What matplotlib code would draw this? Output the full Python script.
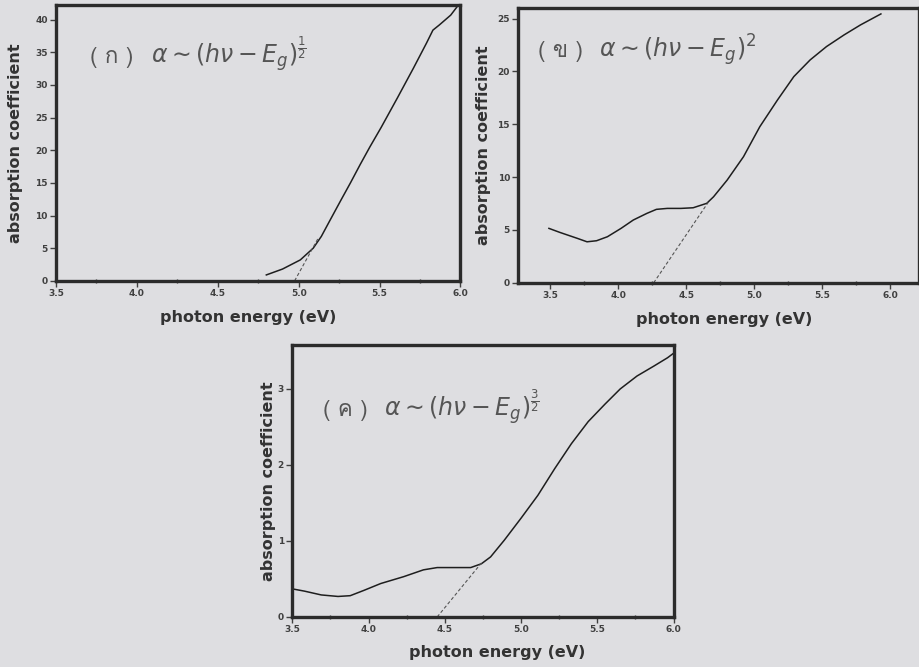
import matplotlib
matplotlib.use('Agg')
import matplotlib.pyplot as plt
from matplotlib import font_manager
from matplotlib.ft2font import FT2Font
from matplotlib.ticker import MultipleLocator, FormatStrFormatter

# ── data ────────────────────────────────────────────────
# (ก) alpha ~ (hv - Eg)^1/2
e1 = [4.80, 4.90, 5.01, 5.09, 5.14, 5.19, 5.26, 5.32, 5.38, 5.44, 5.51,
      5.61, 5.71, 5.79, 5.83, 5.87, 5.94, 5.98]
a1 = [0.9, 1.8, 3.2, 5.0, 6.8, 9.1, 12.3, 15.0, 17.8, 20.5, 23.5,
      28.0, 32.6, 36.4, 38.4, 39.2, 40.7, 42.0]
fit1_e = [4.975, 5.12]
fit1_a = [0.0, 6.5]

# (ข) alpha ~ (hv - Eg)^2
e2 = [3.49, 3.57, 3.70, 3.77, 3.84, 3.92, 4.02, 4.11, 4.21, 4.28, 4.36, 4.46, 4.55,
      4.65, 4.70, 4.80, 4.92, 5.04, 5.17, 5.29, 5.41, 5.53, 5.66, 5.78, 5.93]
a2 = [5.15, 4.77, 4.20, 3.88, 3.98, 4.36, 5.15, 5.94, 6.57, 6.95, 7.04, 7.04, 7.10,
      7.52, 8.14, 9.72, 11.93, 14.77, 17.30, 19.51, 21.09, 22.35, 23.46, 24.40, 25.44]
fit2_e = [4.26, 4.66]
fit2_a = [0.0, 7.6]

# (ค) alpha ~ (hv - Eg)^3/2
e3 = [3.50, 3.58, 3.69, 3.80, 3.88, 3.97, 4.08, 4.23, 4.36, 4.45, 4.58, 4.67, 4.74,
      4.80, 4.89, 5.00, 5.11, 5.22, 5.33, 5.44, 5.55, 5.65, 5.76, 5.87, 5.96, 6.00]
a3 = [0.37, 0.34, 0.29, 0.27, 0.28, 0.35, 0.44, 0.53, 0.62, 0.65, 0.65, 0.65, 0.70,
      0.79, 1.01, 1.30, 1.60, 1.95, 2.28, 2.57, 2.80, 3.00, 3.17, 3.30, 3.41, 3.47]
fit3_e = [4.45, 4.74]
fit3_a = [0.0, 0.71]

BG = '#dedee1'
INK = '#1e1e1e'


def find_thai_font():
    for f in font_manager.fontManager.ttflist:
        try:
            if ord('ก') in FT2Font(f.fname).get_charmap():
                return f.name
        except Exception:
            pass
    return 'DejaVu Sans'


THAI = find_thai_font()
plt.rcParams['mathtext.fontset'] = 'dejavusans'


def setup_ax(ax, xlim, ylim, ystep, ylab_x, xlab_pos):
    ax.set_facecolor(BG)
    ax.set_xlim(xlim)
    ax.set_ylim(ylim)
    ax.xaxis.set_major_locator(MultipleLocator(0.5))
    ax.xaxis.set_minor_locator(MultipleLocator(0.25))
    ax.yaxis.set_major_locator(MultipleLocator(ystep))
    ax.xaxis.set_major_formatter(FormatStrFormatter('%.1f'))
    ax.yaxis.set_major_formatter(FormatStrFormatter('%d'))
    for s in ax.spines.values():
        s.set_linewidth(2.4)
        s.set_color('#2b2b2b')
    ax.tick_params(which='major', direction='out', length=4, width=1,
                   labelsize=6.5, labelcolor='#404040', color='#404040', pad=2)
    for t in ax.get_xticklabels() + ax.get_yticklabels():
        t.set_fontweight('bold')
    ax.tick_params(which='minor', direction='inout', length=3, width=1, color='#404040')
    ax.tick_params(axis='y', which='minor', length=0)
    ax.set_ylabel('absorption coefficient', fontsize=11.5, fontweight='bold', color='#333333')
    ax.set_xlabel('photon energy (eV)', fontsize=11.5, fontweight='bold', color='#333333')
    ax.yaxis.set_label_coords(ylab_x, 0.5)
    ax.xaxis.set_label_coords(*xlab_pos)
    ax.xaxis.label.set_va('center')
    ax.yaxis.label.set_va('center')


def label(ax, x, y, letter, expo):
    ax.text(x, y, f'( {letter} )', transform=ax.transAxes, fontsize=16,
            family=[THAI, 'DejaVu Sans'], color='#555555', va='baseline')
    ax.annotate(r'$\alpha \sim (h\nu - E_g)^{%s}$' % expo, xy=(x, y),
                xycoords='axes fraction', xytext=(44, 0), textcoords='offset points',
                fontsize=17, color='#555555', va='baseline')


fig = plt.figure(figsize=(9.19, 6.67), dpi=100)
fig.patch.set_facecolor(BG)

ax1 = fig.add_axes([0.061, 0.579, 0.440, 0.414])
ax2 = fig.add_axes([0.564, 0.576, 0.436, 0.412])
ax3 = fig.add_axes([0.318, 0.075, 0.415, 0.408])

setup_ax(ax1, (3.5, 6.0), (0, 42.3), 5, -0.10, (0.475, -0.134))
setup_ax(ax2, (3.265, 6.21), (0, 26.0), 5, -0.087, (0.514, -0.135))
setup_ax(ax3, (3.5, 6.0), (0, 3.58), 1, -0.063, (0.538, -0.129))

for ax, e, a, fe, fa in [(ax1, e1, a1, fit1_e, fit1_a),
                         (ax2, e2, a2, fit2_e, fit2_a),
                         (ax3, e3, a3, fit3_e, fit3_a)]:
    ax.plot(e, a, color=INK, lw=1.1)
    ax.plot(fe, fa, color='#555555', lw=0.8, linestyle=(0, (3, 2)))

label(ax1, 0.084, 0.79, 'ก', r'\frac{1}{2}')
label(ax2, 0.05, 0.82, 'ข', '2')
label(ax3, 0.08, 0.74, 'ค', r'\frac{3}{2}')

fig.savefig('out.png', dpi=100, facecolor=BG)
